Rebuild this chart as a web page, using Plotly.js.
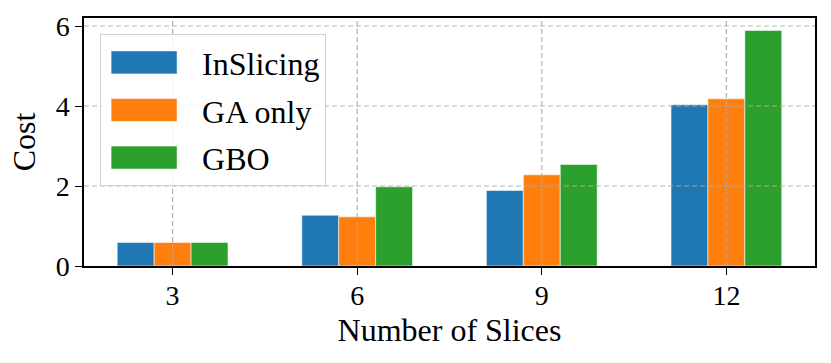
<!DOCTYPE html>
<html>
<head>
<meta charset="utf-8">
<script src="https://cdn.plot.ly/plotly-3.0.1.min.js"></script>
<style>
  body { margin: 0; background: #fff; }
  #chart { width: 831px; height: 363px; }
</style>
</head>
<body>
<div id="chart"></div>
<script>
// values
const slices = ['3', '6', '9', '12'];
const inSlicing = [0.59, 1.27, 1.89, 4.03];
const gaOnly = [0.59, 1.23, 2.28, 4.18];
const gbo = [0.59, 1.98, 2.54, 5.89];
const yTicks = [0, 2, 4, 6];

const serif = 'Liberation Serif';
const gridLine = {color: 'rgba(170,170,170,0.9)', width: 1.2, dash: '5px,3px'};

function barTrace(name, values, color) {
  return {
    type: 'bar',
    name: name,
    legendgroup: name,
    x: slices,
    y: values,
    marker: {color: color, line: {color: 'rgba(255,255,255,0.7)', width: 0.8}}
  };
}

// matplotlib draws its grid over the bars here, so grid goes in as shapes above
const gridShapes = [];
slices.forEach((s, i) => {
  gridShapes.push({type: 'line', layer: 'above', xref: 'x', yref: 'paper',
    x0: i, x1: i, y0: 0, y1: 1, line: gridLine});
});
yTicks.slice(1).forEach(v => {
  gridShapes.push({type: 'line', layer: 'above', xref: 'paper', yref: 'y',
    x0: 0, x1: 1, y0: v, y1: v, line: gridLine});
});

Plotly.newPlot('chart', [
  barTrace('InSlicing', inSlicing, '#1f77b4'),
  barTrace('GA only', gaOnly, '#ff7f0e'),
  barTrace('GBO', gbo, '#2ca02c')
], {
  width: 831,
  height: 363,
  margin: {l: 84, r: 16, t: 18, b: 97},
  font: {family: serif, color: '#000'},
  barmode: 'group',
  bargap: 0.4,
  bargroupgap: 0,
  showlegend: true,
  legend: {
    x: 0.022, y: 0.935, xanchor: 'left', yanchor: 'top',
    bgcolor: 'rgba(255,255,255,0.8)',
    bordercolor: '#d0d0d0', borderwidth: 1,
    font: {size: 32, family: serif},
    itemwidth: 91,
    traceorder: 'grouped',
    tracegroupgap: 3
  },
  xaxis: {
    type: 'category',
    range: [-0.48, 3.48],
    showgrid: false,
    showline: true, mirror: true, linecolor: '#000', linewidth: 1.5,
    ticks: 'outside', ticklen: 7, tickwidth: 1.3, tickcolor: '#000',
    ticklabelstandoff: -3,
    tickfont: {size: 28, family: serif},
    title: {text: 'Number of Slices', font: {size: 32, family: serif}, standoff: 8}
  },
  yaxis: {
    range: [0, 6.2],
    tickvals: yTicks,
    showgrid: false,
    zeroline: false,
    showline: true, mirror: true, linecolor: '#000', linewidth: 1.5,
    ticks: 'outside', ticklen: 7, tickwidth: 1.3, tickcolor: '#000',
    tickfont: {size: 28, family: serif},
    title: {text: 'Cost', font: {size: 32, family: serif}, standoff: 10}
  },
  shapes: gridShapes,
  plot_bgcolor: '#fff',
  paper_bgcolor: '#fff'
}, {displayModeBar: false}).then(gd => {
  // widen legend swatches to the long matplotlib patches
  document.querySelectorAll('#chart .legend .legendpoints path').forEach(p => {
    p.setAttribute('d', 'M25.5,11.5H-40.5V-11.5H25.5Z');
  });
});
</script>
</body>
</html>
